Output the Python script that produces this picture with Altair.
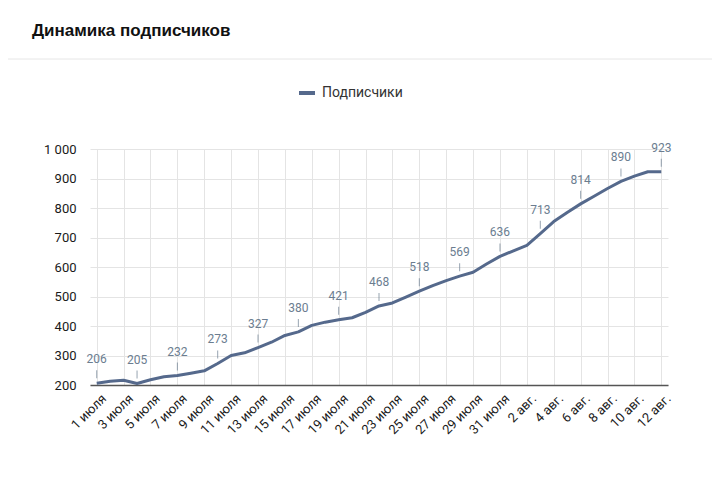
import altair as alt
import pandas as pd

title_text = "Динамика подписчиков"
series_name = "Подписчики"

dates = (
    [f"{d} июля" for d in range(1, 32)]
    + [f"{d} авг." for d in range(1, 13)]
)

subscribers = [
    206, 213, 216, 205, 218, 228, 232, 240, 248, 273,
    300, 309, 327, 345, 368, 380, 402, 413, 421, 428,
    446, 468, 478, 498, 518, 537, 554, 569, 582, 610,
    636, 655, 673, 713, 754, 785, 814, 840, 866, 890,
    908, 923, 923,
]

label_every = 3
tick_labels = dates[::2]
y_ticks = [200, 300, 400, 500, 600, 700, 800, 900, 1000]

df = pd.DataFrame({
    "date": dates,
    "value": subscribers,
    "series": [series_name] * len(dates),
    "idx": list(range(len(dates))),
})
df["labeled"] = df["idx"] % label_every == 0

W, H = 578, 236
LINE_COLOR = "#55698c"
LABEL_COLOR = "#6b7d90"

x_scale = alt.Scale(type="point", padding=0.5)
y_scale = alt.Scale(domain=[200, 1000], nice=False, zero=False)

x_axis = alt.Axis(
    values=tick_labels,
    labelAngle=-45,
    labelAlign="right",
    labelBaseline="middle",
    labelFont="Roboto",
    labelFontSize=13,
    labelColor="#1a1a1a",
    labelPadding=11,
    labelOffset=7,
    labelOverlap=False,
    ticks=False,
    domain=True,
    domainColor="#555555",
    domainWidth=1.5,
    grid=True,
    gridColor="#e4e4e4",
    title=None,
)
y_axis = alt.Axis(
    values=y_ticks,
    labelExpr="replace(format(datum.value, ','), ',', ' ')",
    labelFont="Roboto",
    labelFontSize=13,
    labelColor="#1a1a1a",
    labelPadding=14,
    labelOverlap=False,
    ticks=False,
    domain=False,
    grid=True,
    gridColor="#e4e4e4",
    title=None,
)

x_enc = alt.X("date:N", sort=dates, scale=x_scale, axis=x_axis)
y_enc = alt.Y("value:Q", scale=y_scale, axis=y_axis)

base = alt.Chart(df)

line = base.mark_line(strokeWidth=3, strokeJoin="round").encode(
    x=x_enc,
    y=y_enc,
    color=alt.Color(
        "series:N",
        scale=alt.Scale(range=[LINE_COLOR]),
        legend=alt.Legend(
            title=None,
            orient="none",
            legendX=207,
            legendY=-66,
            symbolType="stroke",
            symbolSize=256,
            symbolStrokeWidth=4,
            labelFont="Roboto",
            labelFontSize=14,
            labelColor="#333333",
            labelOffset=5,
            padding=0,
        ),
    ),
)

labeled = base.transform_filter("datum.labeled")

ticks = labeled.mark_tick(
    orient="vertical", size=8, thickness=1, color=LABEL_COLOR, yOffset=-9
).encode(x=x_enc, y=y_enc)

texts = labeled.mark_text(
    dy=-20, baseline="alphabetic", font="Roboto", fontSize=12, color=LABEL_COLOR
).encode(x=x_enc, y=y_enc, text="value:Q")

title = alt.Chart(pd.DataFrame({"t": [title_text]})).mark_text(
    align="left", baseline="alphabetic", font="Liberation Sans", fontSize=17,
    fontWeight="bold", color="#111111",
).encode(x=alt.value(-58), y=alt.value(-113), text="t:N")

separator = alt.Chart(pd.DataFrame({"k": [0]})).mark_rule(
    color="#e6e6e6", strokeWidth=1
).encode(x=alt.value(-90), x2=alt.value(640), y=alt.value(-90))

chart = alt.layer(separator, title, line, ticks, texts).properties(
    width=W,
    height=H,
    autosize=alt.AutoSizeParams(type="none"),
    padding={"left": 82, "top": 141, "right": 44, "bottom": 102},
).configure_view(stroke=None)

chart.save("out.html", embed_options={"renderer": "svg", "actions": False})
